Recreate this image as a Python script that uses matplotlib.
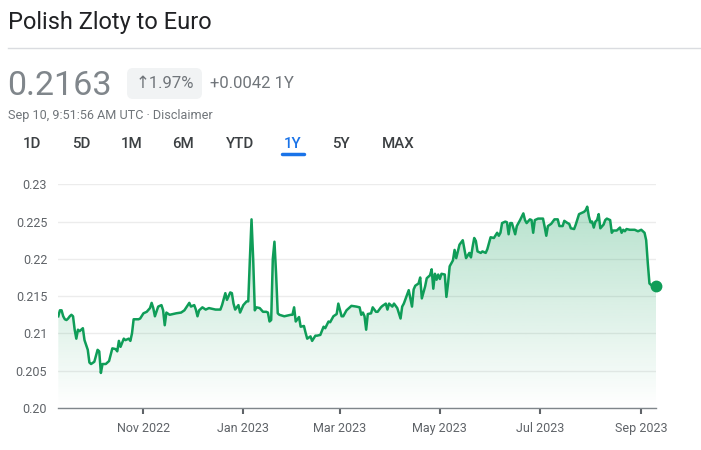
import numpy as np
import pandas as pd
import matplotlib
matplotlib.use("Agg")
import matplotlib.pyplot as plt
import matplotlib.dates as mdates
from matplotlib.patches import FancyBboxPatch, Polygon
from matplotlib.transforms import IdentityTransform

plt.rcParams['font.family'] = ['Roboto', 'DejaVu Sans']

# PLN -> EUR (Sep 2022 - Sep 2023)
dates = [
    "2022-09-10", "2022-09-11", "2022-09-12", "2022-09-13", "2022-09-14", "2022-09-15", "2022-09-16",
    "2022-09-17", "2022-09-18", "2022-09-19", "2022-09-20", "2022-09-21", "2022-09-22", "2022-09-23",
    "2022-09-25", "2022-09-26", "2022-09-28", "2022-09-29", "2022-09-30", "2022-10-02", "2022-10-04",
    "2022-10-05", "2022-10-06", "2022-10-07", "2022-10-09", "2022-10-11", "2022-10-13", "2022-10-15",
    "2022-10-16", "2022-10-17", "2022-10-18", "2022-10-20", "2022-10-21", "2022-10-23", "2022-10-24",
    "2022-10-25", "2022-10-26", "2022-10-29", "2022-10-30", "2022-11-01", "2022-11-03", "2022-11-05",
    "2022-11-06", "2022-11-07", "2022-11-08", "2022-11-10", "2022-11-12", "2022-11-13", "2022-11-14",
    "2022-11-15", "2022-11-17", "2022-11-19", "2022-11-21", "2022-11-24", "2022-11-26", "2022-11-29",
    "2022-11-30", "2022-12-02", "2022-12-03", "2022-12-04", "2022-12-05", "2022-12-07", "2022-12-09",
    "2022-12-11", "2022-12-15", "2022-12-18", "2022-12-19", "2022-12-21", "2022-12-22", "2022-12-24",
    "2022-12-25", "2022-12-26", "2022-12-27", "2022-12-29", "2022-12-30", "2023-01-01", "2023-01-03",
    "2023-01-04", "2023-01-05", "2023-01-06", "2023-01-07", "2023-01-08", "2023-01-09", "2023-01-11",
    "2023-01-13", "2023-01-15", "2023-01-16", "2023-01-17", "2023-01-18", "2023-01-19", "2023-01-20",
    "2023-01-21", "2023-01-22", "2023-01-23", "2023-01-26", "2023-01-30", "2023-01-31", "2023-02-01",
    "2023-02-02", "2023-02-04", "2023-02-05", "2023-02-07", "2023-02-08", "2023-02-09", "2023-02-11",
    "2023-02-12", "2023-02-14", "2023-02-15", "2023-02-17", "2023-02-19", "2023-02-20", "2023-02-22",
    "2023-02-23", "2023-02-25", "2023-02-27", "2023-02-28", "2023-03-02", "2023-03-03", "2023-03-05",
    "2023-03-08", "2023-03-11", "2023-03-13", "2023-03-14", "2023-03-15", "2023-03-16", "2023-03-17",
    "2023-03-18", "2023-03-20", "2023-03-21", "2023-03-23", "2023-03-24", "2023-03-26", "2023-03-27",
    "2023-03-29", "2023-03-30", "2023-03-31", "2023-04-02", "2023-04-03", "2023-04-05", "2023-04-07",
    "2023-04-08", "2023-04-09", "2023-04-11", "2023-04-12", "2023-04-14", "2023-04-15", "2023-04-16",
    "2023-04-18", "2023-04-19", "2023-04-20", "2023-04-22", "2023-04-23", "2023-04-25", "2023-04-26",
    "2023-04-27", "2023-04-28", "2023-04-29", "2023-04-30", "2023-05-01", "2023-05-02", "2023-05-04",
    "2023-05-05", "2023-05-06", "2023-05-07", "2023-05-09", "2023-05-10", "2023-05-11", "2023-05-12",
    "2023-05-13", "2023-05-15", "2023-05-17", "2023-05-19", "2023-05-20", "2023-05-21", "2023-05-22",
    "2023-05-23", "2023-05-24", "2023-05-26", "2023-05-27", "2023-05-29", "2023-05-30", "2023-05-31",
    "2023-06-01", "2023-06-03", "2023-06-05", "2023-06-06", "2023-06-07", "2023-06-08", "2023-06-10",
    "2023-06-11", "2023-06-12", "2023-06-13", "2023-06-14", "2023-06-16", "2023-06-17", "2023-06-19",
    "2023-06-21", "2023-06-22", "2023-06-23", "2023-06-25", "2023-06-26", "2023-06-27", "2023-06-28",
    "2023-06-30", "2023-07-03", "2023-07-04", "2023-07-05", "2023-07-06", "2023-07-08", "2023-07-10",
    "2023-07-12", "2023-07-13", "2023-07-15", "2023-07-16", "2023-07-18", "2023-07-19", "2023-07-20",
    "2023-07-22", "2023-07-23", "2023-07-25", "2023-07-27", "2023-07-28", "2023-07-29", "2023-07-30",
    "2023-07-31", "2023-08-01", "2023-08-02", "2023-08-03", "2023-08-04", "2023-08-05", "2023-08-06",
    "2023-08-07", "2023-08-09", "2023-08-10", "2023-08-11", "2023-08-13", "2023-08-14", "2023-08-15",
    "2023-08-17", "2023-08-19", "2023-08-20", "2023-08-21", "2023-08-22", "2023-08-23", "2023-08-25",
    "2023-08-28", "2023-08-30", "2023-09-01", "2023-09-03", "2023-09-04", "2023-09-05", "2023-09-06",
    "2023-09-08", "2023-09-10",
]
rates = [
    0.2123, 0.2131, 0.2131, 0.2123, 0.2119, 0.2118, 0.2120,
    0.2123, 0.2125, 0.2123, 0.2105, 0.2093, 0.2105, 0.2103,
    0.2107, 0.2091, 0.2078, 0.2061, 0.2059, 0.2062, 0.2078,
    0.2076, 0.2047, 0.2059, 0.2059, 0.2063, 0.2080, 0.2079,
    0.2076, 0.2090, 0.2082, 0.2093, 0.2091, 0.2093, 0.2090,
    0.2100, 0.2119, 0.2119, 0.2120, 0.2127, 0.2129, 0.2134,
    0.2141, 0.2134, 0.2123, 0.2136, 0.2138, 0.2131, 0.2111,
    0.2128, 0.2125, 0.2126, 0.2127, 0.2128, 0.2131, 0.2141,
    0.2136, 0.2138, 0.2132, 0.2123, 0.2131, 0.2135, 0.2132,
    0.2134, 0.2132, 0.2132, 0.2138, 0.2154, 0.2145, 0.2155,
    0.2154, 0.2140, 0.2132, 0.2138, 0.2128, 0.2138, 0.2143,
    0.2143, 0.2200, 0.2253, 0.2200, 0.2131, 0.2135, 0.2134,
    0.2129, 0.2129, 0.2128, 0.2116, 0.2118, 0.2200, 0.2223,
    0.2180, 0.2127, 0.2125, 0.2123, 0.2125, 0.2125, 0.2135,
    0.2116, 0.2122, 0.2109, 0.2110, 0.2101, 0.2093, 0.2096,
    0.2090, 0.2097, 0.2097, 0.2098, 0.2109, 0.2107, 0.2116,
    0.2115, 0.2123, 0.2126, 0.2140, 0.2123, 0.2123, 0.2131,
    0.2137, 0.2136, 0.2135, 0.2125, 0.2128, 0.2123, 0.2105,
    0.2126, 0.2127, 0.2135, 0.2129, 0.2129, 0.2135, 0.2137,
    0.2140, 0.2132, 0.2140, 0.2136, 0.2140, 0.2134, 0.2120,
    0.2136, 0.2140, 0.2152, 0.2158, 0.2136, 0.2159, 0.2164,
    0.2167, 0.2175, 0.2147, 0.2163, 0.2174, 0.2178, 0.2186,
    0.2160, 0.2180, 0.2172, 0.2179, 0.2173, 0.2180, 0.2179,
    0.2149, 0.2167, 0.2190, 0.2198, 0.2212, 0.2201, 0.2210,
    0.2219, 0.2225, 0.2201, 0.2208, 0.2202, 0.2216, 0.2228,
    0.2224, 0.2210, 0.2208, 0.2210, 0.2208, 0.2213, 0.2221,
    0.2229, 0.2228, 0.2235, 0.2231, 0.2235, 0.2248, 0.2250,
    0.2249, 0.2233, 0.2248, 0.2248, 0.2233, 0.2244, 0.2252,
    0.2261, 0.2252, 0.2248, 0.2253, 0.2252, 0.2235, 0.2252,
    0.2254, 0.2254, 0.2243, 0.2231, 0.2244, 0.2247, 0.2253,
    0.2253, 0.2244, 0.2244, 0.2251, 0.2248, 0.2247, 0.2241,
    0.2240, 0.2246, 0.2260, 0.2262, 0.2263, 0.2265, 0.2270,
    0.2257, 0.2249, 0.2250, 0.2242, 0.2250, 0.2252, 0.2260,
    0.2241, 0.2246, 0.2252, 0.2254, 0.2252, 0.2235, 0.2238,
    0.2238, 0.2242, 0.2235, 0.2239, 0.2237, 0.2240, 0.2239,
    0.2239, 0.2237, 0.2239, 0.2235, 0.2225, 0.2194, 0.2167,
    0.2163, 0.2163,
]

yticks = [0.20, 0.205, 0.21, 0.215, 0.22, 0.225, 0.23]
ytick_labels = ["0.20", "0.205", "0.21", "0.215", "0.22", "0.225", "0.23"]
xticks = ["2022-11-01", "2023-01-01", "2023-03-01", "2023-05-01", "2023-07-01", "2023-09-01"]
tabs = ["1D", "5D", "1M", "6M", "YTD", "1Y", "5Y", "MAX"]
tab_x = [32, 81, 132, 183, 240, 293, 341, 398]
selected_tab = "1Y"

green = "#0f9d58"
W, H = 701, 450

fig = plt.figure(figsize=(W / 100, H / 100), dpi=100)
ax = fig.add_axes([58.3 / W, 1 - 408 / H, (656 - 58.3) / W, (408 - 184.3) / H])

x = mdates.date2num(pd.to_datetime(dates))
y = np.array(rates)

# gradient under the line
ymin, ytop = 0.20, 0.227
n = 256
grad = np.zeros((n, 1, 4))
rgb = matplotlib.colors.to_rgb(green)
grad[:, 0, 0], grad[:, 0, 1], grad[:, 0, 2] = rgb
grad[:, 0, 3] = np.linspace(0.30, 0.0, n)
poly = Polygon(np.column_stack([np.r_[x, x[-1], x[0]], np.r_[y, ymin, ymin]]),
               closed=True, facecolor="none", edgecolor="none")
ax.add_patch(poly)
im = ax.imshow(grad, extent=[x[0], x[-1], ymin, ytop], aspect="auto", origin="upper", zorder=1)
im.set_clip_path(poly)

ax.plot(x, y, color=green, lw=1.8, zorder=3, solid_joinstyle="round")
ax.plot(x[-1], y[-1], "o", color=green, ms=7.5, zorder=4, clip_on=False)

ax.set_xlim(x[0], x[-1])
ax.set_ylim(0.20, 0.23)
ax.set_yticks(yticks)
ax.set_yticklabels(ytick_labels)
ax.set_xticks(mdates.date2num(pd.to_datetime(xticks)))
ax.xaxis.set_major_formatter(mdates.DateFormatter("%b %Y"))
ax.grid(axis="y", color="#ececec", lw=1)
ax.set_axisbelow(True)
for s in ["top", "right", "left"]:
    ax.spines[s].set_visible(False)
ax.spines["bottom"].set_color("#80868b")
ax.spines["bottom"].set_linewidth(1)
ax.tick_params(axis="y", length=0, pad=8, labelsize=9, labelcolor="#5f6368")
ax.tick_params(axis="x", length=4, width=1.5, color="#5f6368", pad=6, labelsize=9, labelcolor="#5f6368")

# header
T = IdentityTransform()
fig.text(8, H - 22, "Polish Zloty to Euro", transform=T, fontsize=17, color="#202124", va="center")
fig.add_artist(plt.Line2D([8, W], [H - 47.5, H - 47.5], transform=T, color="#dadce0", lw=1))
fig.text(7, H - 86, "0.2163", transform=T, fontsize=24.5, color="#80868b", va="center")
fig.add_artist(FancyBboxPatch((127, H - 99), 75, 31, boxstyle="round,pad=0,rounding_size=6",
                              transform=T, facecolor="#f1f3f4", edgecolor="none"))
fig.text(164.5, H - 84, "↑1.97%", transform=T, fontsize=12, color="#70757a", va="center", ha="center")
fig.text(210, H - 84, "+0.0042 1Y", transform=T, fontsize=12, color="#70757a", va="center")
fig.text(8, H - 116, "Sep 10, 9:51:56 AM UTC · Disclaimer", transform=T, fontsize=9.1,
         color="#70757a", va="center")
for t, tx in zip(tabs, tab_x):
    c = "#1a73e8" if t == selected_tab else "#3c4043"
    fig.text(tx, H - 144, t, transform=T, fontsize=10.8, color=c, va="center", ha="center",
             fontweight="medium")
    if t == selected_tab:
        fig.add_artist(plt.Line2D([tx - 11, tx + 11], [H - 154, H - 154], transform=T,
                                  color=c, lw=2.5, solid_capstyle="round"))

fig.savefig("out.png", dpi=100)
